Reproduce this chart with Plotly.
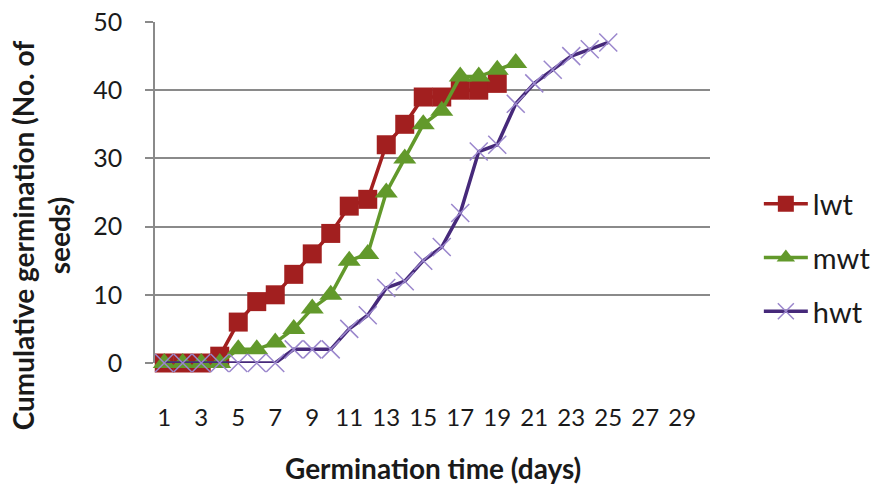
import plotly.graph_objects as go

days = list(range(1, 31))
lwt = [0, 0, 0, 1, 6, 9, 10, 13, 16, 19, 23, 24, 32, 35, 39, 39, 40, 40, 41]
mwt = [0, 0, 0, 0, 2, 2, 3, 5, 8, 10, 15, 16, 25, 30, 35, 37, 42, 42, 43, 44]
hwt = [0, 0, 0, 0, 0, 0, 0, 2, 2, 2, 5, 7, 11, 12, 15, 17, 22, 31, 32, 38, 41, 43, 45, 46, 47]
x_ticks = list(range(1, 30, 2))
y_ticks = [0, 10, 20, 30, 40, 50]

FONT = "Lato"
grid = "#8a8a8a"
txt = "#1a1a1a"

fig = go.Figure()
fig.add_trace(go.Scatter(
    x=days[:len(lwt)], y=lwt, name="lwt", mode="lines+markers",
    line=dict(color="#A21F1F", width=3.5),
    marker=dict(symbol="square", size=19, color="#A21F1F"),
    cliponaxis=False, legendgroup="a"))
fig.add_trace(go.Scatter(
    x=days[:len(mwt)], y=mwt, name="mwt", mode="lines+markers",
    line=dict(color="#62992B", width=3.5),
    marker=dict(symbol="triangle-up", size=20, color="#62992B"),
    cliponaxis=False, legendgroup="b"))
fig.add_trace(go.Scatter(
    x=days[:len(hwt)], y=hwt, name="hwt", mode="lines+markers",
    line=dict(color="#46297A", width=3.5),
    marker=dict(symbol="x-thin", size=18, color="#9A86CC",
                line=dict(color="#9A86CC", width=1.5)),
    cliponaxis=False, legendgroup="c"))

fig.update_layout(
    width=880, height=491,
    margin=dict(l=155, r=170, t=22, b=128, autoexpand=False),
    paper_bgcolor="white", plot_bgcolor="white",
    font=dict(family=FONT, size=24, color=txt),
    showlegend=True,
    legend=dict(x=1.088, y=0.308, xanchor="left", yanchor="middle",
                font=dict(family=FONT, size=29, color=txt),
                traceorder="grouped", tracegroupgap=13, itemwidth=44,
                bgcolor="rgba(0,0,0,0)"),
    xaxis=dict(range=[0.5, 30.5], tickmode="array", tickvals=x_ticks,
               ticktext=[str(v) for v in x_ticks], showgrid=False,
               zeroline=False, showline=False, ticks="",
               ticklabelstandoff=38, automargin=False,
               tickfont=dict(family=FONT, size=24, color=txt)),
    yaxis=dict(range=[0, 50], tickmode="array", tickvals=y_ticks,
               showgrid=True, gridcolor=grid, gridwidth=1.5,
               zeroline=False, showline=True, linecolor=grid, linewidth=1.5,
               ticks="outside", ticklen=8, tickcolor=grid, tickwidth=1.5,
               ticklabelstandoff=18, automargin=False,
               tickfont=dict(family=FONT, size=25, color=txt)),
    annotations=[
        dict(text="<b>Germination time (days)</b>", xref="paper", yref="paper",
             x=0.5, y=-0.308, xanchor="center", yanchor="middle",
             showarrow=False, font=dict(family=FONT, size=28, color=txt)),
        dict(text="<b>Cumulative germination (No. of<br>seeds)</b>",
             xref="paper", yref="paper", x=-0.205, y=0.375,
             xanchor="center", yanchor="middle", textangle=-90,
             showarrow=False, font=dict(family=FONT, size=28, color=txt)),
    ],
)

fig.write_html("out.html")
